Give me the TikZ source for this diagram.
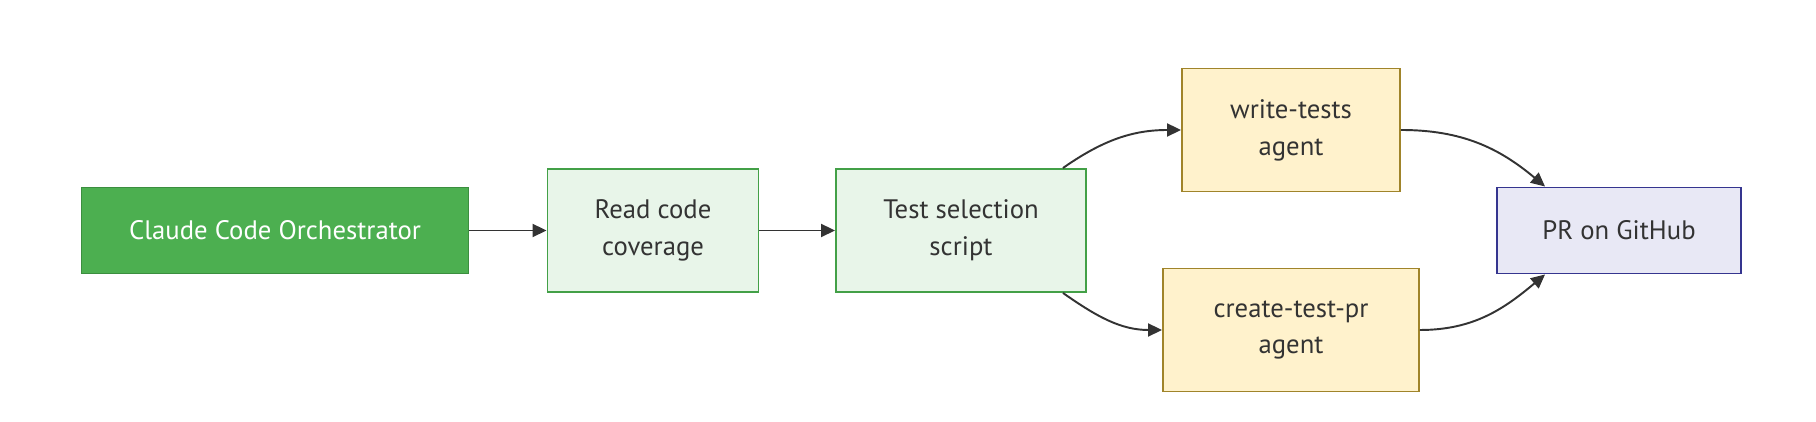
\documentclass[tikz,border=0pt]{standalone}
\usepackage{fontspec}
\setmainfont{PT Sans}
\usetikzlibrary{positioning,calc,arrows.meta}
\definecolor{orchfill}{HTML}{4CAF50}
\definecolor{orchline}{HTML}{3B8E3F}
\definecolor{stepfill}{HTML}{E8F5E9}
\definecolor{stepline}{HTML}{43A047}
\definecolor{agtfill}{HTML}{FFF2CC}
\definecolor{agtline}{HTML}{A0842A}
\definecolor{prfill}{HTML}{E8E8F5}
\definecolor{prline}{HTML}{35358F}
\definecolor{dark}{HTML}{333333}
\tikzset{
  box/.style     ={line width=1.1pt, inner sep=0pt, align=center, text=dark,
                   font=\fontsize{15.2}{21}\selectfont},
  orchbox/.style ={box, draw=orchline, fill=orchfill, text=white,
                   minimum width=7.74cm, minimum height=1.72cm},
  stepbox/.style ={box, draw=stepline, fill=stepfill, minimum height=2.46cm},
  agtbox/.style  ={box, draw=agtline, fill=agtfill, minimum height=2.46cm},
  prbox/.style   ={box, draw=prline, fill=prfill,
                   minimum width=4.88cm, minimum height=1.72cm},
  flow/.style    ={-{Triangle[length=0.28cm, width=0.26cm]}, line width=1.1pt, draw=dark},
}
\begin{document}
\begin{tikzpicture}

  \useasboundingbox (0,0) rectangle (36.32,8.44);

  % ---- main chain ----
  \node[orchbox] (orch) at (5.50,3.83) {Claude Code Orchestrator};
  \node[stepbox, minimum width=4.22cm] (readcov) at (13.06,3.83) {Read code\\coverage};
  \node[stepbox, minimum width=5.00cm] (testsel) at (19.22,3.83) {Test selection\\script};
  \draw[flow] (orch.east) -- (readcov.west);
  \draw[flow] (readcov.east) -- (testsel.west);

  % ---- the two agents ----
  \node[agtbox, minimum width=4.36cm] (writet)   at (25.82,5.84) {write-tests\\agent};
  \node[agtbox, minimum width=5.12cm] (createpr) at (25.82,1.84) {create-test-pr\\agent};
  \draw[flow] ([xshift=-0.48cm]testsel.north east) to[out=35, in=180] (writet.west);
  \draw[flow] ([xshift=-0.48cm]testsel.south east) to[out=-35, in=180] (createpr.west);

  % ---- result ----
  \node[prbox] (prgh) at (32.38,3.83) {PR on GitHub};
  \draw[flow] (writet.east) to[out=0, in=140] ([xshift=0.98cm]prgh.north west);
  \draw[flow] (createpr.east) to[out=0, in=-140] ([xshift=0.98cm]prgh.south west);

\end{tikzpicture}
\end{document}
